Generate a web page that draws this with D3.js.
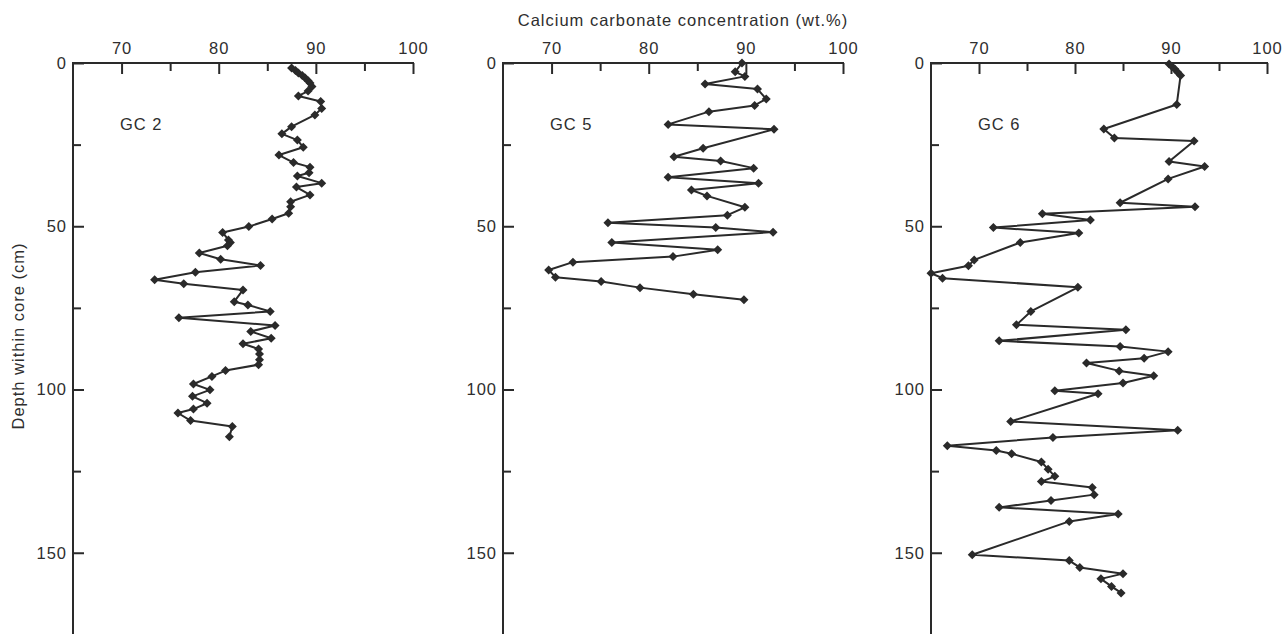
<!DOCTYPE html>
<html><head><meta charset="utf-8">
<script src="https://cdn.jsdelivr.net/npm/d3@7"></script>
<style>
body{margin:0;background:#fff}
svg{display:block}
text{font-family:"Liberation Sans",Arial,Helvetica,sans-serif;fill:#2e2e2e}
</style>
</head><body>
<svg id="chart" width="1284" height="634"></svg>
<script>
// ---- data ----
const coreNames = ["GC 2", "GC 5", "GC 6"];
const xTickValues = [70, 75, 80, 85, 90, 95, 100];
const xTickLabels = [70, 80, 90, 100];
const yTickValues = [0, 25, 50, 75, 100, 125, 150];
const yTickLabels = [0, 50, 100, 150];
const xTitle = "Calcium carbonate concentration (wt.%)";
const yTitle = "Depth within core (cm)";

const gc2Depth = [1.5,2.3,3.1,3.8,4.6,5.4,6.1,7.2,8.6,10.1,11.8,13.9,15.9,19.5,21.7,23.6,25.8,28.2,30.5,31.9,33.6,34.6,36.8,38.0,40.4,42.5,44.0,46.0,47.8,50.1,51.9,54.2,55.0,56.0,58.2,60.1,62.0,64.1,66.4,67.6,69.5,73.1,74.1,76.1,78.0,80.4,82.2,84.3,86.0,87.6,89.1,90.9,92.4,94.2,96.0,98.3,100.1,102.1,104.2,106.0,107.2,109.5,111.3,114.5];
const gc2CaCO3 = [87.5,87.9,88.2,88.6,88.9,89.2,89.4,89.6,89.2,88.2,90.5,90.6,89.9,87.5,86.5,88.1,88.7,86.2,87.7,89.4,89.3,88.1,90.6,88.0,89.4,87.4,87.4,87.2,85.5,83.1,80.4,81.0,81.2,80.9,78.0,80.2,84.3,77.6,73.4,76.4,82.5,81.6,83.0,85.3,75.9,85.8,83.3,85.4,82.5,84.1,84.2,84.2,84.1,80.7,79.3,77.4,79.1,77.3,78.8,77.4,75.8,77.1,81.4,81.1];

const gc5Depth = [0,2.7,4.1,6.4,8.0,11.0,13.0,14.9,18.8,20.3,26.1,28.7,30.0,32.2,35.0,36.8,38.9,40.7,44.2,46.6,48.9,50.4,51.8,55.0,57.2,59.3,61.0,63.4,65.6,66.9,68.8,70.8,72.5];
const gc5CaCO3 = [89.6,88.9,89.9,85.8,91.2,92.1,90.9,86.2,82.0,92.9,85.6,82.6,87.4,90.8,82.0,91.3,84.4,86.0,89.9,88.1,75.8,86.9,92.8,76.2,87.1,82.5,72.2,69.7,70.4,75.1,79.1,84.6,89.8];

const gc6Depth = [0.3,1.1,1.8,2.8,3.8,12.7,20.2,23.0,23.9,30.2,31.7,35.5,42.8,44.0,46.2,48.1,50.4,52.1,55.0,60.3,62.1,64.4,65.9,68.7,76.1,80.2,81.7,85.1,86.8,88.4,90.4,91.9,94.3,95.8,98.0,100.4,101.3,109.8,112.5,114.7,117.2,118.7,119.7,122.2,124.4,126.6,128.2,130.0,132.2,134.0,136.1,138.1,140.4,150.6,152.4,154.5,156.4,158.0,160.3,162.3];
const gc6CaCO3 = [89.8,90.1,90.4,90.7,91.0,90.6,83.0,84.1,92.4,89.8,93.5,89.7,84.7,92.5,76.6,81.6,71.5,80.4,74.3,69.5,68.9,65.0,66.2,80.3,75.4,73.9,85.3,72.1,84.7,89.7,87.2,81.2,84.6,88.2,85.0,77.9,82.4,73.3,90.7,77.7,66.7,71.8,73.4,76.5,77.2,77.9,76.5,81.8,82.0,77.5,72.1,84.5,79.4,69.3,79.4,80.5,85.0,82.7,83.8,84.8];

const cores = [
  {name: coreNames[0], depth: gc2Depth, val: gc2CaCO3},
  {name: coreNames[1], depth: gc5Depth, val: gc5CaCO3},
  {name: coreNames[2], depth: gc6Depth, val: gc6CaCO3}
];

// ---- layout ----
const panelX = [[73, 413], [503, 843], [931, 1267]];
const yTop = 63, yBottom = 634 + 2;
const ink = "#2a2a2a";
const fs = 16.5, ls = "1px";

const svg = d3.select("#chart");
const y = d3.scaleLinear().domain([0, 175]).range([yTop, yTop + 175 * 3.265]);

cores.forEach((core, i) => {
  const x = d3.scaleLinear().domain([65, 100]).range(panelX[i]);
  const g = svg.append("g");

  // x axis (top), ticks pointing down
  const xa = g.append("g").attr("transform", `translate(0,${yTop})`)
    .call(d3.axisTop(x).tickValues(xTickValues).tickSizeInner(-11).tickSizeOuter(0).tickPadding(9)
      .tickFormat(d => xTickLabels.includes(d) ? d : ""));
  xa.select(".domain").attr("stroke", ink).attr("stroke-width", 2)
    .attr("d", `M${panelX[i][0]-1},0H${panelX[i][1]+1}`);
  xa.selectAll(".tick line").attr("stroke", ink).attr("stroke-width", 2)
    .attr("y2", d => xTickLabels.includes(d) ? 11 : 8);
  xa.selectAll(".tick text").attr("font-size", fs).style("fill", "#2e2e2e")
    .style("letter-spacing", ls)
    .attr("font-family", '"Liberation Sans",Arial,sans-serif');

  // y axis (left), ticks pointing right
  const ya = g.append("g").attr("transform", `translate(${panelX[i][0]},0)`)
    .call(d3.axisLeft(y).tickValues(yTickValues).tickSizeInner(-11).tickSizeOuter(0).tickPadding(6)
      .tickFormat(d => yTickLabels.includes(d) ? d : ""));
  ya.select(".domain").attr("stroke", ink).attr("stroke-width", 2)
    .attr("d", `M0,${yTop-1}V${yBottom}`);
  ya.selectAll(".tick line").attr("stroke", ink).attr("stroke-width", 2)
    .attr("x2", d => yTickLabels.includes(d) ? 11 : 8);
  ya.selectAll(".tick text").attr("font-size", fs).style("fill", "#2e2e2e")
    .style("letter-spacing", ls)
    .attr("font-family", '"Liberation Sans",Arial,sans-serif');

  // data line
  const pts = core.depth.map((d, k) => [core.val[k], d]);
  const line = d3.line().x(p => x(p[0])).y(p => y(p[1]));
  g.append("path").attr("d", line(pts)).attr("fill", "none")
    .attr("stroke", ink).attr("stroke-width", 2).attr("stroke-linejoin", "round");

  // diamond markers
  const dia = "M0,-4.5L4.5,0L0,4.5L-4.5,0Z";
  g.selectAll("path.m").data(pts).join("path").attr("class", "m")
    .attr("d", dia)
    .attr("transform", p => `translate(${x(p[0])},${y(p[1])})`)
    .attr("fill", ink);

  // core label
  g.append("text").attr("x", x(65) + 47).attr("y", y(20.5))
    .attr("font-size", fs).style("letter-spacing", ls).text(core.name);
});

svg.append("text").attr("x", 683).attr("y", 26).attr("text-anchor", "middle")
  .attr("font-size", fs).style("letter-spacing", ls).text(xTitle);

svg.append("text").attr("transform", `translate(24,336) rotate(-90)`)
  .attr("text-anchor", "middle").attr("font-size", fs).style("letter-spacing", ls).text(yTitle);
</script>
</body></html>
